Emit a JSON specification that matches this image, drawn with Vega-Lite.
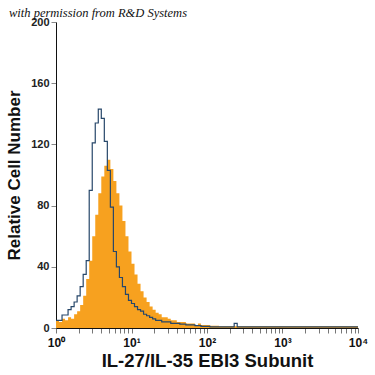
{
  "$schema": "https://vega.github.io/schema/vega-lite/v6.json",
  "width": 302,
  "height": 306,
  "autosize": {"type": "none"},
  "padding": {"left": 56, "top": 22, "right": 17, "bottom": 47},
  "background": "white",
  "title": {
    "text": "with permission from R&D Systems",
    "anchor": "start",
    "frame": "group",
    "dx": -47,
    "offset": -3,
    "font": "Liberation Serif",
    "fontStyle": "italic",
    "fontWeight": "normal",
    "fontSize": 12.5,
    "color": "#111"
  },
  "data": {
    "values": [
      {"x": 1, "orange": 5, "blue": 5},
      {"x": 1.096, "orange": 4, "blue": 5},
      {"x": 1.202, "orange": 6, "blue": 8.5},
      {"x": 1.318, "orange": 5, "blue": 8.5},
      {"x": 1.445, "orange": 7, "blue": 12},
      {"x": 1.585, "orange": 6, "blue": 14},
      {"x": 1.738, "orange": 9, "blue": 17},
      {"x": 1.905, "orange": 11, "blue": 21},
      {"x": 2.089, "orange": 15, "blue": 27},
      {"x": 2.291, "orange": 21, "blue": 35},
      {"x": 2.512, "orange": 32, "blue": 44},
      {"x": 2.754, "orange": 44, "blue": 90},
      {"x": 3.02, "orange": 60, "blue": 121},
      {"x": 3.311, "orange": 74, "blue": 134},
      {"x": 3.631, "orange": 88, "blue": 143},
      {"x": 3.981, "orange": 99, "blue": 137},
      {"x": 4.365, "orange": 106, "blue": 122},
      {"x": 4.786, "orange": 110, "blue": 103},
      {"x": 5.248, "orange": 104, "blue": 79},
      {"x": 5.754, "orange": 96, "blue": 50},
      {"x": 6.31, "orange": 88, "blue": 40},
      {"x": 6.918, "orange": 80, "blue": 33},
      {"x": 7.586, "orange": 70, "blue": 27},
      {"x": 8.318, "orange": 60, "blue": 22},
      {"x": 9.12, "orange": 50, "blue": 18},
      {"x": 10, "orange": 42, "blue": 16},
      {"x": 10.96, "orange": 35, "blue": 14},
      {"x": 12.02, "orange": 29, "blue": 12},
      {"x": 13.18, "orange": 24, "blue": 11},
      {"x": 14.45, "orange": 20, "blue": 9},
      {"x": 15.85, "orange": 17, "blue": 8},
      {"x": 17.38, "orange": 14, "blue": 7},
      {"x": 19.05, "orange": 12, "blue": 6},
      {"x": 20.89, "orange": 10, "blue": 5},
      {"x": 22.91, "orange": 9, "blue": 5},
      {"x": 25.12, "orange": 7, "blue": 4},
      {"x": 27.54, "orange": 7, "blue": 4},
      {"x": 30.2, "orange": 6, "blue": 4},
      {"x": 33.11, "orange": 5, "blue": 3},
      {"x": 36.31, "orange": 5, "blue": 3},
      {"x": 39.81, "orange": 4, "blue": 3},
      {"x": 43.65, "orange": 4, "blue": 2.5},
      {"x": 47.86, "orange": 4, "blue": 2.5},
      {"x": 52.48, "orange": 3, "blue": 2},
      {"x": 57.54, "orange": 3, "blue": 2},
      {"x": 63.1, "orange": 3, "blue": 2},
      {"x": 69.18, "orange": 2, "blue": 1.5},
      {"x": 75.86, "orange": 3, "blue": 1.5},
      {"x": 83.18, "orange": 2, "blue": 1},
      {"x": 91.2, "orange": 2, "blue": 1},
      {"x": 100, "orange": 2, "blue": 1},
      {"x": 109.6, "orange": 1.5, "blue": 0.7},
      {"x": 120.2, "orange": 1.5, "blue": 0.7},
      {"x": 131.8, "orange": 1.5, "blue": 0.7},
      {"x": 144.5, "orange": 1.2, "blue": 0.7},
      {"x": 158.5, "orange": 1.2, "blue": 0.7},
      {"x": 173.8, "orange": 1.2, "blue": 0.7},
      {"x": 190.5, "orange": 1.2, "blue": 0.7},
      {"x": 208.9, "orange": 1.2, "blue": 0.7},
      {"x": 229.1, "orange": 1.2, "blue": 3},
      {"x": 251.2, "orange": 1.2, "blue": 0.7},
      {"x": 1000, "orange": 1.2, "blue": 0.7},
      {"x": 10000, "orange": 1.2, "blue": 0.7}
    ]
  },
  "encoding": {
    "x": {
      "field": "x",
      "type": "quantitative",
      "scale": {"type": "log", "domain": [1, 10000], "nice": false},
      "axis": {
        "title": "IL-27/IL-35 EBI3 Subunit",
        "titleFont": "Liberation Sans",
        "titleFontSize": 18.5,
        "titleFontWeight": "bold",
        "titleColor": "#111",
        "titlePadding": 3,
        "values": [1, 2, 3, 4, 5, 6, 7, 8, 9, 10, 20, 30, 40, 50, 60, 70, 80, 90, 100, 200, 300, 400, 500, 600, 700, 800, 900, 1000, 2000, 3000, 4000, 5000, 6000, 7000, 8000, 9000, 10000],
        "labelExpr": "datum.value == 1 ? '10⁰' : datum.value == 10 ? '10¹' : datum.value == 100 ? '10²' : datum.value == 1000 ? '10³' : datum.value == 10000 ? '10⁴' : ''",
        "labelFont": "Liberation Sans",
        "labelFontSize": 12,
        "labelFontWeight": "bold",
        "labelColor": "#111",
        "labelFlush": false,
        "labelOverlap": false,
        "labelPadding": 4,
        "tickColor": "#777",
        "tickSize": 5,
        "domainColor": "#111",
        "grid": false
      }
    },
    "y": {
      "type": "quantitative",
      "scale": {"domain": [0, 200], "nice": false},
      "axis": {
        "title": "Relative Cell Number",
        "titleFont": "Liberation Sans",
        "titleFontSize": 17,
        "titleFontWeight": "bold",
        "titleColor": "#111",
        "titlePadding": 7,
        "values": [0, 40, 80, 120, 160, 200],
        "labelFont": "Liberation Sans",
        "labelFontSize": 11,
        "labelFontWeight": "bold",
        "labelColor": "#222",
        "tickColor": "#888",
        "tickSize": 5,
        "domainColor": "#111",
        "grid": false
      }
    }
  },
  "layer": [
    {
      "mark": {"type": "area", "interpolate": "step-after", "color": "#f7a11f"},
      "encoding": {"y": {"field": "orange", "type": "quantitative"}}
    },
    {
      "mark": {"type": "line", "interpolate": "step-after", "color": "#27476a", "strokeWidth": 1.2},
      "encoding": {"y": {"field": "blue", "type": "quantitative"}}
    }
  ],
  "config": {"view": {"stroke": null}}
}
